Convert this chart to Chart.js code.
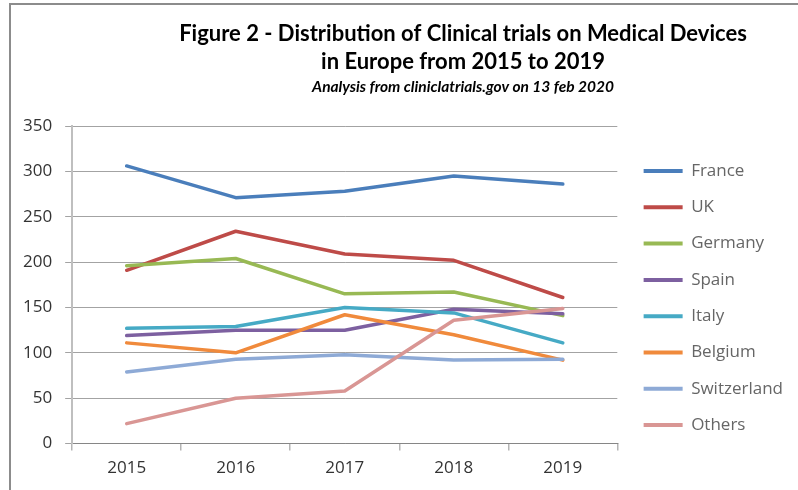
<!DOCTYPE HTML>
<html>

<head>
    <title>Clinical trials on Medical Devices in Europe</title>
    <meta charset="utf-8" />
    <script src="https://cdn.jsdelivr.net/npm/chart.js@4"></script>
    <style>
        html, body { margin: 0; padding: 0; background: #fff; }
        #wrap { width: 798px; height: 490px; }
    </style>
</head>

<body>
    <div id="wrap"><canvas id="trialsChart" width="798" height="490"></canvas></div>

    <script>
        // Values
        const years = ['2015', '2016', '2017', '2018', '2019'];
        const countries = ['France', 'UK', 'Germany', 'Spain', 'Italy', 'Belgium', 'Switzerland', 'Others'];
        const france = [306, 271, 278, 295, 286];
        const uk = [191, 234, 209, 202, 161];
        const germany = [196, 204, 165, 167, 141];
        const spain = [119, 125, 125, 148, 143];
        const italy = [127, 129, 150, 144, 111];
        const belgium = [111, 100, 142, 120, 92];
        const switzerland = [79, 93, 98, 92, 93];
        const others = [22, 50, 58, 136, 149];
        const yTicks = [0, 50, 100, 150, 200, 250, 300, 350];

        const titleLines = ['Figure 2 - Distribution of Clinical trials on Medical Devices', 'in Europe from 2015 to 2019'];
        const subTitle = 'Analysis from cliniclatrials.gov on 13 feb 2020';

        const series = [france, uk, germany, spain, italy, belgium, switzerland, others];
        const colors = ['#4a7ebb', '#be4b48', '#98b954', '#7d60a0', '#46aac5', '#f08a3c', '#8eaad6', '#d99694'];
        const gridColor = '#a3a3a3';
        const textColor = '#333333';

        // Title block and frame are drawn by hand (title is off-centre like in Excel)
        const frameAndTitle = {
            id: 'frameAndTitle',
            beforeDraw(chart) {
                const ctx = chart.ctx;
                ctx.save();
                ctx.fillStyle = '#ffffff';
                ctx.fillRect(0, 0, chart.width, chart.height);
                ctx.restore();
            },
            afterDraw(chart) {
                const ctx = chart.ctx;
                ctx.save();
                ctx.strokeStyle = '#8c8c8c';
                ctx.lineWidth = 2;
                ctx.beginPath();
                ctx.moveTo(10, chart.height);
                ctx.lineTo(10, 4);
                ctx.lineTo(chart.width, 4);
                ctx.stroke();

                ctx.fillStyle = '#000000';
                ctx.textAlign = 'center';
                ctx.textBaseline = 'alphabetic';
                ctx.font = 'bold 22px Lato';
                ctx.fillText(titleLines[0], 463, 41);
                ctx.fillText(titleLines[1], 463, 69);
                ctx.font = 'italic bold 15.5px Lato';
                ctx.fillText(subTitle, 463, 92);
                ctx.restore();
            }
        };

        const ctxTrials = document.getElementById('trialsChart').getContext('2d');

        const trialsChart = new Chart(ctxTrials, {
            type: 'line',
            data: {
                labels: years,
                datasets: countries.map((name, i) => ({
                    label: name,
                    data: series[i],
                    borderColor: colors[i],
                    backgroundColor: colors[i],
                    borderWidth: 3.5,
                    borderCapStyle: 'round',
                    borderJoinStyle: 'round',
                    pointRadius: 0,
                    tension: 0,
                    order: countries.length - i, // Excel draws later series on top
                })),
            },
            options: {
                responsive: false,
                animation: false,
                devicePixelRatio: 1,
                layout: { padding: { top: 126, left: 10, right: 5, bottom: 5 } },
                plugins: {
                    title: { display: false },
                    tooltip: { enabled: false },
                    legend: {
                        position: 'right',
                        align: 'start',
                        maxWidth: 220,
                        // blank title just pushes the items down to where Excel puts them
                        title: { display: true, text: ' ', font: { size: 10 }, padding: { top: 0, bottom: 5.2 } },
                        labels: {
                            boxWidth: 39,
                            boxHeight: 4,
                            padding: 19.3,
                            color: textColor,
                            font: { family: 'Open Sans', size: 17 },
                            generateLabels: (chart) => chart.data.datasets.map((ds, i) => ({
                                text: ds.label,
                                fillStyle: ds.borderColor,
                                strokeStyle: ds.borderColor,
                                lineWidth: 0,
                                hidden: false,
                                datasetIndex: i,
                            })),
                        },
                    },
                },
                scales: {
                    x: {
                        offset: true,
                        grid: {
                            offset: true,
                            drawOnChartArea: false,
                            drawTicks: true,
                            tickLength: 7,
                            color: '#b5b5b5',
                            lineWidth: 1.5,
                        },
                        border: { color: '#868686', width: 1 },
                        ticks: {
                            padding: 7,
                            color: textColor,
                            font: { family: 'Open Sans', size: 17 },
                        },
                    },
                    y: {
                        min: 0,
                        max: 350,
                        afterBuildTicks: (scale) => { scale.ticks = yTicks.map(v => ({ value: v })); },
                        grid: {
                            color: gridColor,
                            tickLength: 7,
                        },
                        border: { color: '#bfbfbf', width: 2 },
                        ticks: {
                            padding: 13,
                            color: textColor,
                            font: { family: 'Open Sans', size: 17 },
                        },
                    },
                    gap: {
                        // empty right axis, only keeps the legend away from the plot
                        position: 'right',
                        display: true,
                        grid: { display: false },
                        border: { display: false },
                        ticks: { display: false },
                        afterFit: (scale) => { scale.width = 7; },
                    },
                },
            },
            plugins: [frameAndTitle],
        });
    </script>
</body>

</html>
